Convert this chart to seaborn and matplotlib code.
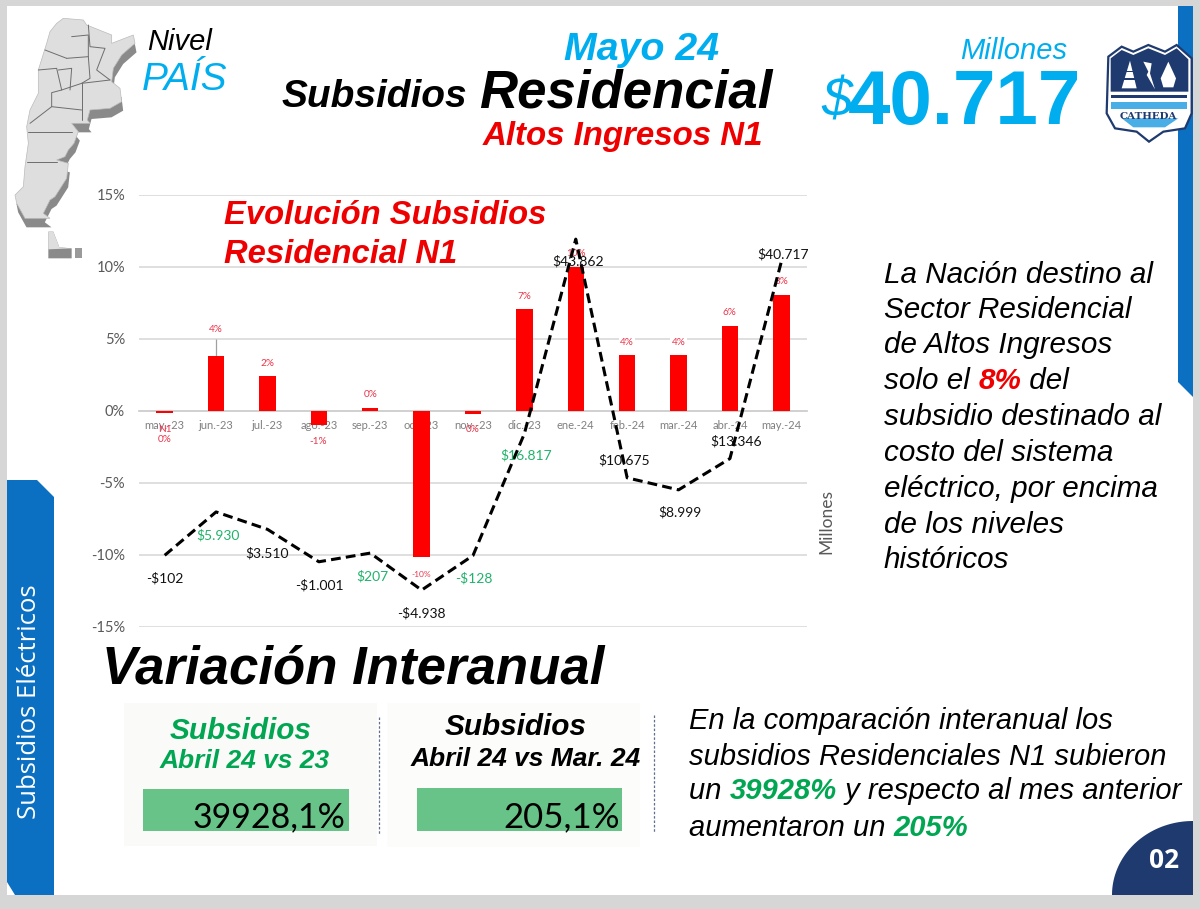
import numpy as np
import pandas as pd
import seaborn as sns
import matplotlib
matplotlib.use("Agg")
import matplotlib.pyplot as plt
from matplotlib.patches import Polygon, Rectangle

# ---------- data ----------
months = ["may.-23", "jun.-23", "jul.-23", "ago.-23", "sep.-23", "oct.-23", "nov.-23",
          "dic.-23", "ene.-24", "feb.-24", "mar.-24", "abr.-24", "may.-24"]
share_pct = [-0.15, 3.8, 2.45, -1.0, 0.2, -10.2, -0.2, 7.05, 10.0, 3.9, 3.9, 5.9, 8.05]
share_labels = ["0%", "4%", "2%", "-1%", "0%", "-10%", "0%", "7%", "10%", "4%", "4%", "6%", "8%"]
subsidy_millions = [-102, 5930, 3510, -1001, 207, -4938, -128, 16817, 43862, 10675, 8999, 13346, 40717]
subsidy_labels = ["-$102", "$5.930", "$3.510", "-$1.001", "$207", "-$4.938", "-$128", "$16.817",
                  "$43.862", "$10.675", "$8.999", "$13.346", "$40.717"]
y_ticks = [-15, -10, -5, 0, 5, 10, 15]

# ---------- styles ----------
BLUE = "#00aeef"; RED = "#ee0000"; GREEN = "#00a651"; LABEL_GREEN = "#21b26b"; BAR_RED = "#ff0000"
SIDE = "#0b6fc2"; NAVY = "#1f3a6e"; BOXG = "#67c387"; LRED = "#e8364b"
share_off = [(0,-27),(0,27),(0,12),(-1,-16),(0,13),(0,-17),(0,-16),(0,13),(0,13),(0,12),(0,12),(0,13),(0,13)]
sub_off = [(0,-23),(2,-23),(0,-24),(1,-23),(2,-23),(0,-23),(1,-23),(2,-22),(2,-22),(-3,18),(1,-22),(6,17),(2,8)]
sub_col = ["#111111", LABEL_GREEN, "#111111", "#111111", LABEL_GREEN, "#111111", LABEL_GREEN,
           LABEL_GREEN, "#111111", "#111111", "#111111", "#111111", "#111111"]

sns.set_theme(style="white")
plt.rcParams["font.family"] = ["Liberation Sans", "DejaVu Sans"]
W, H = 1200, 909
fig = plt.figure(figsize=(W/100, H/100), dpi=100, facecolor="#d6d6d6")

def overlay(z):
    a = fig.add_axes([0, 0, 1, 1], zorder=z)
    a.set_xlim(0, W); a.set_ylim(H, 0); a.axis("off"); a.patch.set_visible(False)
    return a

bg = overlay(0)
fg = overlay(3)

# ---------- slide ----------
bg.add_patch(Rectangle((7, 6), 1186, 889, fc="white", ec="none"))
bg.add_patch(Polygon([(1178, 6), (1193, 6), (1193, 397), (1178, 382)], fc=SIDE, ec="none"))
bg.add_patch(Polygon([(7, 480), (37, 480), (54, 497), (54, 895), (15, 895), (7, 882)], fc=SIDE, ec="none"))
bg.add_patch(Rectangle((124, 703), 253, 143, fc="#fafaf8", ec="none"))
bg.add_patch(Rectangle((387, 703), 253, 144, fc="#fcfcfb", ec="none"))
bg.add_patch(Rectangle((143, 789), 206, 42, fc=BOXG, ec="none"))
bg.add_patch(Rectangle((417, 788), 205, 43, fc=BOXG, ec="none"))
bg.plot([379, 379], [717, 835], color="#5f6f8f", lw=0.9, ls=(0, (2, 1.5)))
bg.plot([653.5, 653.5], [715, 833], color="#5f6f8f", lw=0.9, ls=(0, (2, 1.5)))
theta = np.linspace(np.pi/2, np.pi, 50)
bg.add_patch(Polygon(np.r_[[[1193, 895]], np.c_[1193 + 81*np.cos(theta), 895 - 74*np.sin(theta)]],
                     fc=NAVY, ec="none"))

# ---------- map ----------
mp = np.array([(170,70),(190,55),(250,60),(260,75),(335,105),(335,130),(400,105),(405,130),(365,165),
               (340,205),(335,245),(360,265),(365,305),(330,325),(270,330),(262,360),(270,370),(215,370),
               (235,395),(222,430),(205,450),(195,470),(170,480),(205,490),(200,535),(165,590),(150,600),
               (130,640),(150,655),(75,655),(50,610),(45,585),(70,560),(75,500),(85,430),(80,380),(90,330),
               (115,280),(115,210),(140,130),(150,95)], float)/3
bg.add_patch(Polygon(mp + [1.5, 9], fc="#8a8a8a", ec="none"))
bg.add_patch(Polygon(mp, fc="#dedede", ec="#bbbbbb", lw=0.5))
for ln in [[(115,210),(170,205),(185,270),(155,278),(155,320),(245,330)],
           [(245,250),(245,360)], [(245,250),(330,240)], [(85,395),(215,395)], [(80,485),(170,485)],
           [(200,175),(265,170),(270,235),(245,250),(185,270)], [(215,110),(265,105),(265,170)],
           [(265,75),(270,140),(315,145),(290,210),(330,240)], [(135,150),(200,175)],
           [(90,370),(155,320)], [(175,210),(215,205),(210,270)]]:
    a_ = np.array(ln, float)/3
    bg.plot(a_[:, 0], a_[:, 1], color="#6d6d6d", lw=0.7)
bg.add_patch(Polygon(np.array([(145,695),(160,695),(178,742),(215,745),(215,775),(145,775)], float)/3, fc="#8a8a8a", ec="none"))
bg.add_patch(Polygon(np.array([(145,695),(160,695),(178,742),(215,745),(145,748)], float)/3, fc="#dedede", ec="none"))
bg.add_patch(Rectangle((75, 248), 7, 10, fc="#9a9a9a", ec="none"))

# ---------- logo ----------
shield = np.array([(175,170),(215,140),(250,155),(295,135),(345,155),(380,135),(425,175),(425,340),
                   (405,385),(340,395),(297,425),(260,395),(195,385),(170,340)], float)/3 + [1050, 0]
fg.add_patch(Polygon(shield, fc="white", ec=NAVY, lw=1.6))
fg.add_patch(Polygon(np.array([(182,175),(215,150),(250,165),(295,145),(345,165),(380,145),(415,178),(415,275),(182,275)], float)/3 + [1050,0], fc=NAVY, ec="none"))
fg.add_patch(Rectangle((1111, 95), 76, 3, fc=NAVY, ec="none"))
fg.add_patch(Rectangle((1111, 102), 76, 7, fc="#4aaee6", ec="none"))
fg.add_patch(Polygon(np.array([(215,355),(385,355),(345,382),(250,382)], float)/3 + [1050,0], fc="#4aaee6", ec="none"))
fg.add_patch(Polygon(np.array([(240,182),(260,265),(215,265)], float)/3 + [1050,0], fc="white", ec="none"))
for yy in (212, 235):
    fg.add_patch(Rectangle((1050+222/3, yy/3), 32/3, 1.2, fc=NAVY, ec="none"))
fg.add_patch(Polygon(np.array([(280,185),(305,190),(300,220),(315,268),(290,225),(295,215)], float)/3 + [1050,0], fc="white", ec="none"))
fg.add_patch(Polygon(np.array([(355,185),(378,235),(370,262),(340,262),(332,235)], float)/3 + [1050,0], fc="white", ec="none"))
fg.text(1148.5, 119, "CATHEDA", fontsize=7.4, color=NAVY, ha="center", va="baseline",
        family="DejaVu Serif", weight="bold")

# ---------- chart ----------
ax = fig.add_axes([139/W, 1 - 626.5/H, 668/W, 431.5/H], zorder=1)
ax.patch.set_visible(False)
df = pd.DataFrame({"mes": months, "share": share_pct, "pos": range(len(months)), "sub": subsidy_millions})
sns.barplot(data=df, x="mes", y="share", color=BAR_RED, saturation=1, width=0.32, linewidth=0, ax=ax, zorder=2)
ax.set_xlim(-0.5, len(months) - 0.5)
ax.set_ylim(y_ticks[0], y_ticks[-1])
ax.set_xlabel(""); ax.set_ylabel("")
ax.set_axisbelow(True)
ax.set_yticks(y_ticks, [f"{v}%" for v in y_ticks], family="Lato", fontsize=10.5, color="#595959")
ax.yaxis.grid(True, color="#dcdcdc", lw=1.3)
ax.xaxis.grid(False)
for s in ["top", "right", "left"]:
    ax.spines[s].set_visible(False)
ax.spines["bottom"].set_position(("data", 0))
ax.spines["bottom"].set_color("#d0d0d0")
ax.spines["bottom"].set_linewidth(1.3)
ax.spines["bottom"].set_zorder(1)
ax.set_xticks(range(len(months)), months, family="Lato", fontsize=8, color="#7f7f7f")
ax.set_xticks(np.arange(len(months) + 1) - 0.5, minor=True)
ax.tick_params(axis="x", which="major", length=0, pad=7)
ax.tick_params(axis="x", which="minor", length=3, width=1, color="#d0d0d0")
ax.tick_params(axis="y", length=0, pad=10)

ax.vlines(1, share_pct[1], y_ticks[4], color="#a0a0a0", lw=0.9, zorder=1.5)

ax2 = ax.twinx()
ax2.set_zorder(2)
sns.lineplot(data=df, x="pos", y="sub", color="black", lw=2.2, linestyle=(0, (3.2, 1.7)),
             sort=False, ax=ax2, legend=False)
ax2.set_ylim(-10000, 50000)
ax2.set_xlim(-0.5, len(months) - 0.5)
ax2.set_xlabel(""); ax2.set_ylabel("")
ax2.set_yticks([])
ax2.grid(False)
for s in ax2.spines.values():
    s.set_visible(False)

for i, (v, t, o) in enumerate(zip(share_pct, share_labels, share_off)):
    box = dict(fc="white", ec="none", pad=1) if t == "4%" and i > 1 else None
    ax.annotate(t, xy=(i, v), xytext=o, textcoords="offset pixels", ha="center", va="center",
                family="Lato", fontsize=6 if t == "-10%" else 7.2, color=LRED, bbox=box, zorder=4,
                annotation_clip=False)
ax.annotate("N1", xy=(0, share_pct[0]), xytext=(0, -17), textcoords="offset pixels", ha="center", va="center",
            family="Lato", fontsize=7.2, color=LRED, zorder=4)
for i, (v, t, o, c) in enumerate(zip(subsidy_millions, subsidy_labels, sub_off, sub_col)):
    ax2.annotate(t, xy=(i, v), xytext=o, textcoords="offset pixels", ha="center", va="center",
                 family="Lato", fontsize=10, color=c)
fg.text(826, 521, "Millones", rotation=90, ha="center", va="center", family="Lato", fontsize=12.5, color="#595959")

# ---------- text ----------
def T(x, y, s, size, color="black", weight="normal", style="italic", ha="left", family=None):
    kw = dict(family=family) if family else {}
    return fg.text(x, y, s, fontsize=size, color=color, weight=weight, style=style, ha=ha, va="baseline", **kw)

rend = fig.canvas.get_renderer()
def adv(s, size, weight, style="italic"):
    a = fg.text(0, 0, "x" + s + "x", fontsize=size, weight=weight, style=style)
    b = fg.text(0, 0, "xx", fontsize=size, weight=weight, style=style)
    w = a.get_window_extent(rend).width - b.get_window_extent(rend).width
    a.remove(); b.remove()
    return w

def rich(x, y, parts, size):
    for s, col, wt in parts:
        T(x, y, s, size, col, wt)
        x += adv(s, size, wt)

T(147, 50, "Nivel", 21)
T(142, 90, "PAÍS", 28, BLUE)
T(642, 60, "Mayo 24", 28.3, BLUE, "bold", ha="center")
T(282, 107, "Subsidios", 28, "black", "bold")
T(479, 108, "Residencial", 38, "black", "bold")
T(483, 145, "Altos Ingresos N1", 23.8, RED, "bold")
T(1067, 59, "Millones", 21, BLUE, ha="right")
T(821, 117, "$", 40, BLUE)
T(848, 124, "40.717", 55, BLUE, "bold", style="normal")
T(224, 224, "Evolución Subsidios", 23.6, RED, "bold")
T(224, 263, "Residencial N1", 23.6, RED, "bold")
T(102, 683, "Variación Interanual", 38, "black", "bold")

rx = 884
for y_, s in zip([283, 318, 353, 425, 461, 497, 533, 568],
                 ["La Nación destino al", "Sector Residencial", "de Altos Ingresos", "subsidio destinado al",
                  "costo del sistema", "eléctrico, por encima", "de los niveles", "históricos"]):
    T(rx, y_, s, 21.3)
rich(rx, 389, [("solo el ", "black", "normal"), ("8%", RED, "bold"), (" del", "black", "normal")], 21.3)

T(241, 739, "Subsidios", 21.4, GREEN, "bold", ha="center")
T(244.5, 768, "Abril 24 vs 23", 19, GREEN, "bold", ha="center")
T(515.5, 735, "Subsidios", 21.4, "black", "bold", ha="center")
T(525.5, 766, "Abril 24 vs Mar. 24", 19, "black", "bold", ha="center")
T(345, 827, "39928,1%", 24.5, "black", style="normal", ha="right", family="Lato")
T(620, 827, "205,1%", 25, "black", style="normal", ha="right", family="Lato")

px = 689
T(px, 729, "En la comparación interanual los", 21)
T(px, 765, "subsidios Residenciales N1 subieron", 21)
rich(px, 799, [("un ", "black", "normal"), ("39928%", GREEN, "bold"), (" y respecto al mes anterior", "black", "normal")], 21)
rich(px, 836, [("aumentaron un ", "black", "normal"), ("205%", GREEN, "bold")], 21)

fg.text(30, 702, "Subsidios Eléctricos", rotation=90, ha="center", va="center", color="white",
        family="Open Sans", fontsize=18.5)
T(1164, 868, "02", 19, "white", "bold", style="normal", ha="center", family="Open Sans")

fig.savefig("out.png", dpi=100, facecolor=fig.get_facecolor())
